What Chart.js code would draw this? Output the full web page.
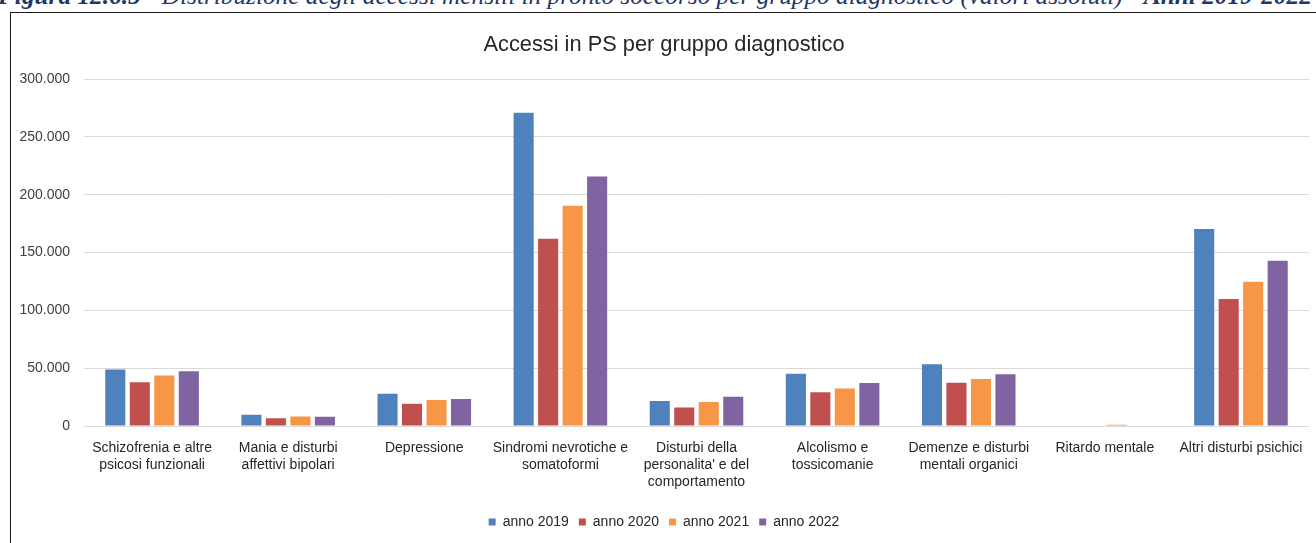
<!DOCTYPE html>
<html>
<head>
<meta charset="utf-8">
<script src="https://cdn.jsdelivr.net/npm/chart.js@4/dist/chart.umd.min.js"></script>
<style>
  html, body { margin: 0; padding: 0; background: #fff; overflow: hidden; }
  #wrap { position: relative; width: 1316px; height: 543px; overflow: hidden; }
  #caption {
    position: absolute; left: -2px; top: -17px; white-space: nowrap;
    font-family: "Liberation Serif", serif; font-style: italic; font-size: 25.3px;
    line-height: 25px; color: #1f3864;
  }
  #frame {
    position: absolute; left: 10px; top: 12px; width: 1320px; height: 560px;
    border: 1px solid #1a1a1a; pointer-events: none;
  }
  canvas { position: absolute; left: 10px; top: 0; }
</style>
</head>
<body>
<div id="wrap">
  <div id="caption"><b>Figura 12.6.5</b> - Distribuzione degli accessi mensili in pronto soccorso per gruppo diagnostico (valori assoluti) - <b>Anni 2019-2022</b></div>
  <canvas id="chart" width="1318" height="543"></canvas>
  <div id="frame"></div>
</div>
<script>
// categorie diagnostiche (etichette su piu' righe)
const categories = [
    ['Schizofrenia e altre', 'psicosi funzionali'],
    ['Mania e disturbi', 'affettivi bipolari'],
    ['Depressione'],
    ['Sindromi nevrotiche e', 'somatoformi'],
    ['Disturbi della', "personalita' e del", 'comportamento'],
    ['Alcolismo e', 'tossicomanie'],
    ['Demenze e disturbi', 'mentali organici'],
    ['Ritardo mentale'],
    ['Altri disturbi psichici']
];

// accessi per anno
const anno2019 = [48900, 9800, 27900, 271000, 21600, 45100, 53500, 0, 170400];
const anno2020 = [37900, 6600, 19200, 161900, 16100, 29300, 37500, 0, 109900];
const anno2021 = [43700, 8300, 22400, 190400, 20700, 32500, 40700, 1100, 124700];
const anno2022 = [47400, 8100, 23300, 215700, 25300, 37300, 44700, 0, 143000];

const yTicks = [0, 50000, 100000, 150000, 200000, 250000, 300000];

const seriesNames = ['anno 2019', 'anno 2020', 'anno 2021', 'anno 2022'];
const seriesColors = ['#4f81bd', '#c0504d', '#f79646', '#8064a2'];
const seriesData = [anno2019, anno2020, anno2021, anno2022];

function formatIt(v) {
    return v === 0 ? '0' : v.toLocaleString('it-IT');
}

const ctx = document.getElementById('chart').getContext('2d');
new Chart(ctx, {
    type: 'bar',
    data: {
        labels: categories,
        datasets: seriesData.map((d, i) => ({
            label: seriesNames[i],
            data: d,
            backgroundColor: seriesColors[i],
            borderWidth: 0,
            categoryPercentage: 0.72,
            barPercentage: 0.82
        }))
    },
    options: {
        responsive: false,
        animation: false,
        layout: { padding: { left: 9, right: 19, top: 0, bottom: 4 } },
        plugins: {
            title: {
                display: true,
                text: 'Accessi in PS per gruppo diagnostico',
                color: '#262626',
                font: { family: 'Liberation Sans', size: 21.8, weight: 'normal' },
                padding: { top: 32, bottom: 21 }
            },
            legend: {
                position: 'bottom',
                labels: {
                    color: '#262626',
                    font: { family: 'Liberation Sans', size: 14 },
                    boxWidth: 7,
                    boxHeight: 7,
                    padding: 10
                }
            },
            tooltip: { enabled: false }
        },
        scales: {
            x: {
                grid: { display: false, drawTicks: false },
                border: { display: false },
                ticks: {
                    color: '#262626',
                    font: { family: 'Liberation Sans', size: 14 },
                    padding: 14,
                    maxRotation: 0,
                    autoSkip: false
                },
                afterFit: function(scale) { scale.height = 79; }
            },
            y: {
                min: 0,
                max: 300000,
                afterBuildTicks: function(scale) {
                    scale.ticks = yTicks.map(v => ({ value: v }));
                },
                grid: { color: '#d9d9d9', lineWidth: 1, drawTicks: false },
                border: { display: false },
                ticks: {
                    color: '#404040',
                    font: { family: 'Liberation Sans', size: 14 },
                    padding: 14,
                    callback: v => formatIt(v)
                },
                afterFit: function(scale) { scale.width = 65; }
            }
        }
    }
});
</script>
</body>
</html>
